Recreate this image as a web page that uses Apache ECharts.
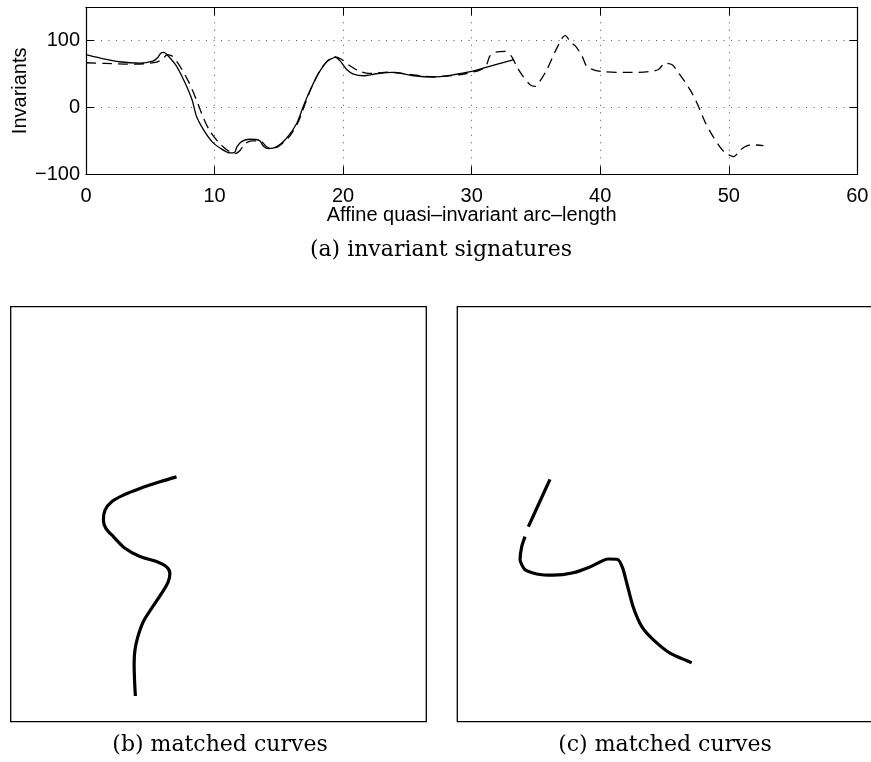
<!DOCTYPE html>
<html>
<head>
<meta charset="utf-8">
<script src="https://cdn.jsdelivr.net/npm/echarts@6/dist/echarts.min.js"></script>
<style>
html,body{margin:0;padding:0;background:#fff;}
#chart{width:871px;height:762px;}
</style>
</head>
<body>
<div id="chart"></div>
<script>
// ---- data ----
const xTicks = [0, 10, 20, 30, 40, 50, 60];
const yTicks = [-100, 0, 100];

// (a) solid signature
const solidX = [0, 1.1, 2.6, 4.2, 5.2, 5.55, 5.8, 6.05, 6.4, 7.05, 7.7, 8.25, 8.6, 9.15, 9.8, 10.45, 11.2, 11.55, 11.75, 12.1, 12.75, 13.5, 13.8, 14.2, 14.85, 15.6, 16.4, 16.9, 17.45, 18.1, 18.75, 19.4, 19.8, 20.3, 20.8, 21.6, 22.6, 23.9, 25.5, 27.0, 28.6, 30.0, 30.9, 33.3];
const solidY = [79, 74, 68.5, 66.5, 69.5, 74, 81, 82.5, 77, 61.5, 37, 11.5, -13.5, -33.5, -51, -61, -68, -67.5, -58.5, -51, -47.5, -49.5, -58, -61.5, -58.5, -46, -23.5, 1.5, 26.5, 51.5, 69, 75, 69, 56.5, 50, 47.5, 50.5, 52.5, 47.5, 45.6, 49, 54, 59, 71.5];

// (a) dashed signature
const dashX = [0, 1.5, 3, 4.5, 5.5, 6.0, 6.3, 6.7, 7.3, 8.0, 8.6, 9.1, 9.6, 10.3, 11.0, 11.6, 12.0, 12.3, 12.9, 13.6, 14.0, 14.4, 15.0, 15.8, 16.5, 17.0, 17.5, 18.1, 18.7, 19.3, 19.8, 20.5, 21.2, 22.0, 23.5, 25.0, 27.0, 29.0, 30.5, 31.1, 31.4, 31.8, 32.6, 33.1, 33.5, 34.0, 34.55, 34.95, 35.3, 35.85, 36.5, 37.1, 37.3, 37.65, 38.1, 38.6, 38.95, 39.6, 40.3, 41.8, 43.4, 44.5, 45.05, 45.6, 46.1, 47.0, 47.65, 48.2, 48.7, 49.2, 49.7, 50.4, 50.9, 51.4, 51.9, 52.7];
const dashY = [67, 66, 65, 65.5, 68, 73, 79, 77, 62, 38, 11, -14, -34, -52, -64, -69, -64, -55, -50, -50.5, -58, -62, -58, -44, -22, 3, 28, 52, 68, 76, 73, 63, 55, 51, 53, 50, 46, 49, 55, 61.5, 76.5, 82.5, 84, 76.5, 61.5, 46.5, 34, 31.5, 39, 56.5, 84, 105.5, 107.5, 99, 91.5, 76.5, 61.5, 55.5, 53.6, 52.5, 53, 56.5, 66.5, 64, 51.6, 26.5, 1.5, -23.5, -41, -56, -67.5, -73.5, -63.5, -57.5, -56, -57];

// (b) matched curve, box coordinates 0..100
const curveBX = [39.9, 35.9, 31.1, 27.1, 24.3, 22.7, 22.3, 22.9, 24.7, 27.5, 31.1, 35.1, 37.5, 38.3, 37.9, 36.3, 33.9, 31.9, 30.6, 29.9, 29.7, 29.8, 30.0];
const curveBY = [59.0, 57.8, 56.2, 54.6, 53.0, 51.0, 48.6, 46.6, 44.6, 41.8, 39.8, 38.6, 37.3, 35.8, 33.7, 30.9, 27.3, 24.1, 20.5, 17.3, 14.1, 10.0, 6.2];

// (c) matched curve, two pieces, box coordinates 0..100
const curveC1X = [22.3, 19.7, 17.1];
const curveC1Y = [58.4, 52.7, 47.0];
const curveC2X = [16.3, 15.5, 15.1, 16.3, 19.1, 23.1, 27.9, 31.9, 36.3, 38.6, 39.8, 40.8, 42.3, 44.4, 47.2, 51.2, 56.4];
const curveC2Y = [44.6, 42.2, 39.0, 36.6, 35.6, 35.3, 35.9, 37.3, 39.2, 39.1, 37.0, 33.3, 27.7, 22.9, 19.7, 16.5, 14.2];

const zip = (a, b) => a.map((v, i) => [v, b[i]]);

const sans = '"Liberation Sans", Arial, Helvetica, sans-serif';
const serif = '"DejaVu Serif", "Liberation Serif", serif';

const chart = echarts.init(document.getElementById('chart'), null, {renderer: 'canvas'});

const minusFmt = v => {
  if (yTicks.indexOf(v) < 0) return '';
  return v < 0 ? '\u2212' + Math.abs(v) : String(v);
};

const dotted = {show: true, lineStyle: {color: '#555', width: 1, type: [1, 6.5]}};
const axLine = {show: true, onZero: false, lineStyle: {color: '#000', width: 1.2}};
const tickIn = {show: true, inside: true, length: 8, lineStyle: {color: '#000', width: 1}};

const boxAxis = (gi) => ({
  type: 'value', gridIndex: gi, min: 0, max: 100, show: false
});

const option = {
  backgroundColor: '#fff',
  animation: false,
  grid: [
    {left: 86, top: 7.3, width: 771.3, height: 167, containLabel: false, outerBoundsMode: 'none'},
    {left: 10.7, top: 306.7, width: 415.6, height: 415, show: true, borderColor: '#000', borderWidth: 1.3, backgroundColor: 'transparent', outerBoundsMode: 'none'},
    {left: 457.3, top: 306.7, width: 415.6, height: 415, show: true, borderColor: '#000', borderWidth: 1.3, backgroundColor: 'transparent', outerBoundsMode: 'none'}
  ],
  xAxis: [
    {
      type: 'value', gridIndex: 0, position: 'bottom', min: xTicks[0], max: xTicks[xTicks.length - 1], interval: 10,
      axisLine: axLine, axisTick: tickIn, splitLine: dotted,
      axisLabel: {show: true, margin: 12, color: '#000', fontFamily: sans, fontSize: 20},
      name: 'Affine quasi\u2013invariant arc\u2013length', nameLocation: 'middle', nameGap: 31, nameMoveOverlap: false,
      nameTextStyle: {color: '#000', fontFamily: sans, fontSize: 20}
    },
    {
      type: 'value', gridIndex: 0, position: 'top', min: xTicks[0], max: xTicks[xTicks.length - 1], interval: 10,
      axisLine: axLine, axisTick: tickIn, splitLine: {show: false}, axisLabel: {show: false}
    },
    boxAxis(1),
    boxAxis(2)
  ],
  yAxis: [
    {
      type: 'value', gridIndex: 0, position: 'left', min: -100, max: 150, interval: 100,
      axisLine: axLine, axisTick: tickIn, splitLine: dotted,
      axisLabel: {show: true, margin: 6, color: '#000', fontFamily: sans, fontSize: 20, formatter: minusFmt},
      name: 'Invariants', nameLocation: 'middle', nameGap: 56, nameRotate: 90, nameMoveOverlap: false,
      nameTextStyle: {color: '#000', fontFamily: sans, fontSize: 20}
    },
    {
      type: 'value', gridIndex: 0, position: 'right', min: -100, max: 150, interval: 100,
      axisLine: axLine, axisTick: tickIn, splitLine: {show: false}, axisLabel: {show: false}
    },
    boxAxis(1),
    boxAxis(2)
  ],
  series: [
    {
      type: 'line', xAxisIndex: 0, yAxisIndex: 0, data: zip(solidX, solidY), smooth: 0.25,
      showSymbol: false, symbol: 'none', lineStyle: {color: '#000', width: 1.3, type: 'solid'}
    },
    {
      type: 'line', xAxisIndex: 0, yAxisIndex: 0, data: zip(dashX, dashY), smooth: 0.25,
      showSymbol: false, symbol: 'none', lineStyle: {color: '#000', width: 1.3, type: [10, 6]}
    },
    {
      type: 'line', xAxisIndex: 2, yAxisIndex: 2, data: zip(curveBX, curveBY), smooth: 0.3,
      showSymbol: false, symbol: 'none', lineStyle: {color: '#000', width: 3.2}
    },
    {
      type: 'line', xAxisIndex: 3, yAxisIndex: 3, data: zip(curveC1X, curveC1Y), smooth: 0.3,
      showSymbol: false, symbol: 'none', lineStyle: {color: '#000', width: 3.2}
    },
    {
      type: 'line', xAxisIndex: 3, yAxisIndex: 3, data: zip(curveC2X, curveC2Y), smooth: 0.2,
      showSymbol: false, symbol: 'none', lineStyle: {color: '#000', width: 3.2}
    }
  ],
  graphic: [
    {type: 'text', x: 441, y: 250, style: {text: '(a) invariant signatures', fill: '#000', font: '22px ' + serif, textAlign: 'center', textVerticalAlign: 'middle'}},
    {type: 'text', x: 220, y: 745, style: {text: '(b) matched curves', fill: '#000', font: '22px ' + serif, textAlign: 'center', textVerticalAlign: 'middle'}},
    {type: 'text', x: 665, y: 745, style: {text: '(c) matched curves', fill: '#000', font: '22px ' + serif, textAlign: 'center', textVerticalAlign: 'middle'}}
  ]
};
chart.setOption(option);
</script>
</body>
</html>
